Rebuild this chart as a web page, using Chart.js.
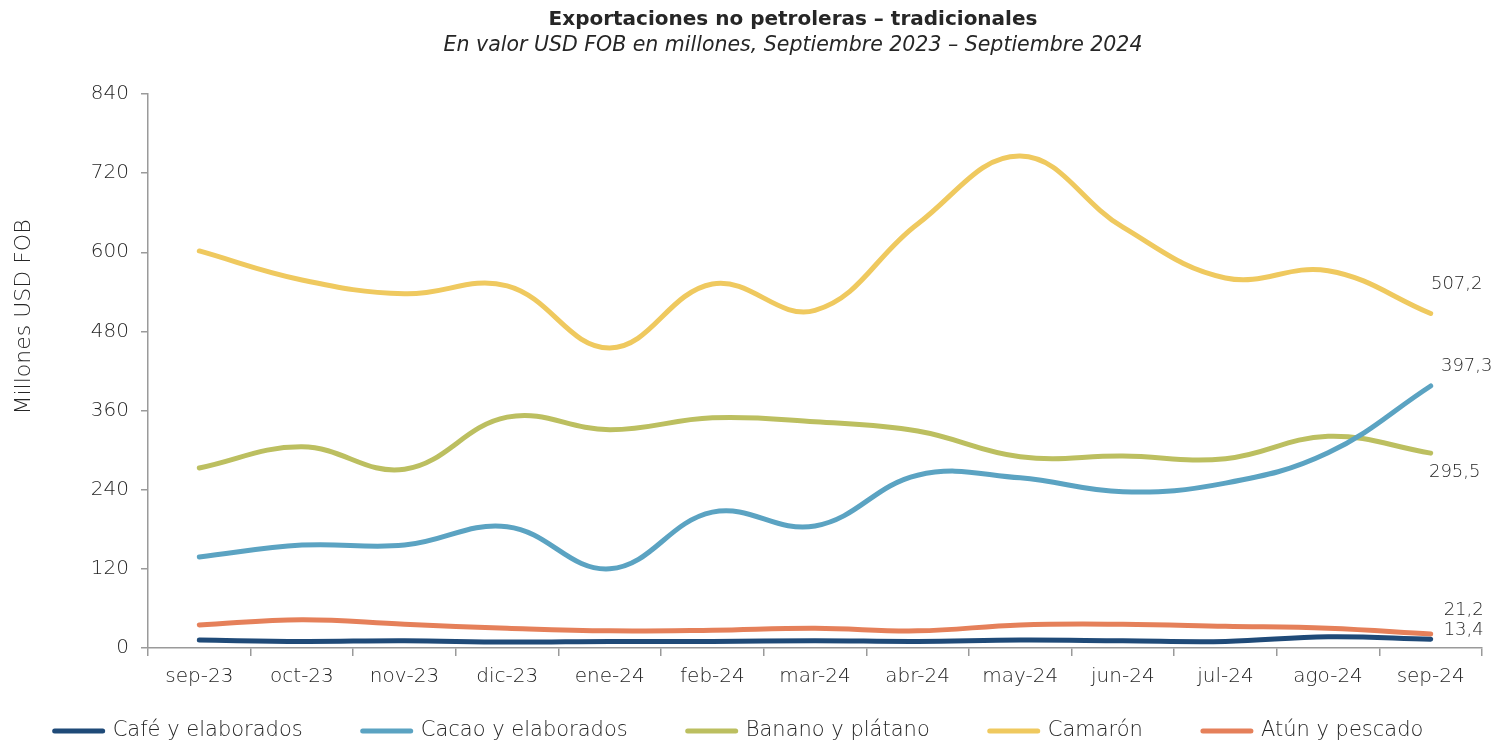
<!DOCTYPE html>
<html>
<head>
<meta charset="utf-8">
<script src="https://cdn.jsdelivr.net/npm/chart.js@4.4.1/dist/chart.umd.min.js"></script>
<style>
  html, body { margin: 0; padding: 0; background: #fff; }
  #wrap { width: 1492px; height: 742px; }
</style>
</head>
<body>
<div id="wrap"><canvas id="exportChart"></canvas></div>
<script>
var chartTitle = 'Exportaciones no petroleras – tradicionales';
var chartSubtitle = 'En valor USD FOB en millones, Septiembre 2023 – Septiembre 2024';
var yAxisTitle = 'Millones USD FOB';

var months = ['sep-23', 'oct-23', 'nov-23', 'dic-23', 'ene-24', 'feb-24', 'mar-24',
              'abr-24', 'may-24', 'jun-24', 'jul-24', 'ago-24', 'sep-24'];
var yTicks = [0, 120, 240, 360, 480, 600, 720, 840];

var cafe    = [12, 10, 11, 9, 10, 10, 11, 10, 12, 11, 10, 17, 13.4];
var cacao   = [138, 156, 156, 184, 120, 206, 185, 262, 258, 237, 250, 296, 397.3];
var banano  = [273, 305, 271, 350, 331, 349, 343, 329, 290, 291, 287, 321, 295.5];
var camaron = [602, 558, 537, 549, 455, 552, 512, 643, 746, 638, 561, 572, 507.2];
var atun    = [35, 43, 36, 30, 26, 27, 30, 26, 35, 36, 33, 30, 21.2];

var seriesNames = ['Café y elaborados', 'Cacao y elaborados', 'Banano y plátano', 'Camarón', 'Atún y pescado'];
var seriesColors = ['#1f4a78', '#5ba3c2', '#bcbf60', '#efc95f', '#e5805a'];
// where each end label sits relative to its last point
var endLabelOffsets = [[33, -9], [36, -20], [24, 19], [26, -29], [33, -24]];

var FONT = '"DejaVu Sans", "Open Sans", sans-serif';
var TEXT = '#262626';
var AXIS = '#9a9a9a';

var headline = {
  id: 'headline',
  afterDraw: function (chart) {
    var ctx = chart.ctx;
    ctx.save();
    ctx.fillStyle = TEXT;
    ctx.textAlign = 'center';
    ctx.textBaseline = 'middle';
    ctx.font = 'bold 20px ' + FONT;
    ctx.fillText(chartTitle, 793, 20);
    ctx.font = 'italic 300 20.5px ' + FONT;
    ctx.fillText(chartSubtitle, 793, 46);
    // y axis title, not centred on the axis in the original
    ctx.translate(24, 317);
    ctx.rotate(-Math.PI / 2);
    ctx.font = '300 22px ' + FONT;
    ctx.fillText(yAxisTitle, 0, 0);
    ctx.restore();
  }
};

var endLabels = {
  id: 'endLabels',
  afterDatasetsDraw: function (chart) {
    var ctx = chart.ctx;
    ctx.save();
    ctx.fillStyle = TEXT;
    ctx.font = '300 18px ' + FONT;
    ctx.textAlign = 'center';
    ctx.textBaseline = 'middle';
    chart.data.datasets.forEach(function (ds, i) {
      var meta = chart.getDatasetMeta(i);
      var last = meta.data[meta.data.length - 1];
      var v = ds.data[ds.data.length - 1];
      var off = endLabelOffsets[i];
      ctx.fillText(v.toFixed(1).replace('.', ','), last.x + off[0], last.y + off[1]);
    });
    ctx.restore();
  }
};

// legend drawn by hand so the gap between items can differ from the row height
var lineLegend = {
  id: 'lineLegend',
  afterDraw: function (chart) {
    var ctx = chart.ctx;
    var markW = 52, gapText = 8, gapItem = 58, y = 731;
    ctx.save();
    ctx.font = '300 21px ' + FONT;
    var total = 0;
    var widths = chart.data.datasets.map(function (ds) {
      var w = markW + gapText + ctx.measureText(ds.label).width;
      total += w;
      return w;
    });
    total += gapItem * (widths.length - 1);
    var x = 738 - total / 2;
    chart.data.datasets.forEach(function (ds, i) {
      ctx.strokeStyle = ds.borderColor;
      ctx.lineWidth = 5;
      ctx.lineCap = 'round';
      ctx.beginPath();
      ctx.moveTo(x + 2, y);
      ctx.lineTo(x + markW - 2, y);
      ctx.stroke();
      ctx.fillStyle = TEXT;
      ctx.textAlign = 'left';
      ctx.textBaseline = 'middle';
      ctx.fillText(ds.label, x + markW + gapText, y);
      x += widths[i] + gapItem;
    });
    ctx.restore();
  }
};

var seriesData = [cafe, cacao, banano, camaron, atun];
var datasets = seriesData.map(function (d, i) {
  return {
    label: seriesNames[i],
    data: d,
    borderColor: seriesColors[i],
    backgroundColor: seriesColors[i],
    borderWidth: 5,
    borderCapStyle: 'round',
    pointRadius: 0,
    tension: 0.4,
    fill: false
  };
});

var ctx = document.getElementById('exportChart').getContext('2d');
var chart = new Chart(ctx, {
  type: 'line',
  data: { labels: months, datasets: datasets },
  plugins: [headline, endLabels, lineLegend],
  options: {
    responsive: true,
    maintainAspectRatio: false,
    animation: false,
    layout: { padding: { top: 94, right: 10, left: 0, bottom: 55 } },
    plugins: {
      legend: { display: false },
      tooltip: { enabled: false }
    },
    scales: {
      x: {
        offset: true,
        grid: { display: true, offset: true, drawOnChartArea: false, drawTicks: true, tickLength: 8, color: AXIS, lineWidth: 1.5 },
        border: { display: true, color: AXIS, width: 1.5 },
        ticks: { color: TEXT, padding: 9, maxRotation: 0, font: { family: FONT, size: 20, weight: '300' } },
        afterFit: function (s) { s.height = 39; }
      },
      y: {
        min: 0,
        max: 840,
        afterBuildTicks: function (s) { s.ticks = yTicks.map(function (v) { return { value: v }; }); },
        grid: { display: true, drawOnChartArea: false, drawTicks: true, tickLength: 7, color: AXIS, lineWidth: 1.5 },
        border: { display: true, color: AXIS, width: 1.5 },
        ticks: { color: TEXT, padding: 12, font: { family: FONT, size: 20, weight: '300' } },
        afterFit: function (s) { s.width = 148; }
      }
    }
  }
});
</script>
</body>
</html>
